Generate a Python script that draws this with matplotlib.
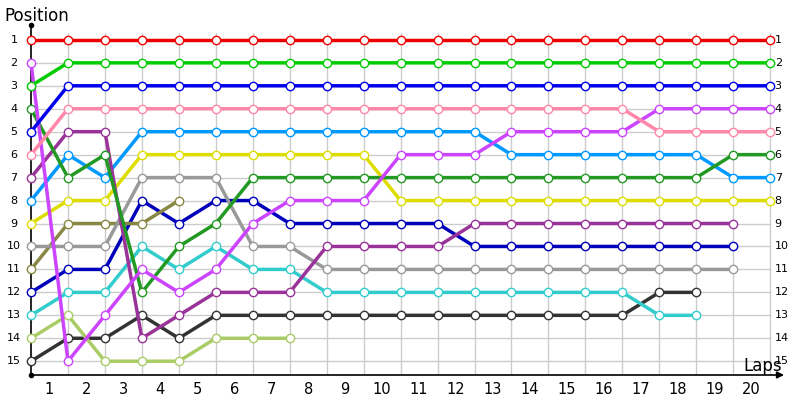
import matplotlib.pyplot as plt

laps = list(range(0, 21))
N = None

# position of each driver after each lap (lap 0 = grid)
red = [1] * 21
green = [3] + [2] * 20
blue = [5] + [3] * 20
pink = [6] + [4] * 16 + [5] * 4
violet = [2, 15, 13, 11, 12, 11, 9, 8, 8, 8, 6, 6, 6, 5, 5, 5, 5, 4, 4, 4, 4]
dark_green = [4, 7, 6, 12, 10, 9, 7, 7, 7, 7, 7, 7, 7, 7, 7, 7, 7, 7, 7, 6, 6]
purple = [7, 5, 5, 14, 13, 12, 12, 12, 10, 10, 10, 10, 9, 9, 9, 9, 9, 9, 9, 9, N]
light_blue = [8, 6, 7, 5, 5, 5, 5, 5, 5, 5, 5, 5, 5, 6, 6, 6, 6, 6, 6, 7, 7]
yellow = [9, 8, 8, 6, 6, 6, 6, 6, 6, 6, 8, 8, 8, 8, 8, 8, 8, 8, 8, 8, 8]
grey = [10, 10, 10, 7, 7, 7, 10, 10, 11, 11, 11, 11, 11, 11, 11, 11, 11, 11, 11, 11, N]
olive = [11, 9, 9, 9, 8] + [N] * 16
dark_blue = [12, 11, 11, 8, 9, 8, 8, 9, 9, 9, 9, 9, 10, 10, 10, 10, 10, 10, 10, 10, N]
teal = [13, 12, 12, 10, 11, 10, 11, 11, 12, 12, 12, 12, 12, 12, 12, 12, 12, 13, 13, N, N]
light_green = [14, 13, 15, 15, 15, 14, 14, 14] + [N] * 13
black = [15, 14, 14, 13, 14, 13, 13, 13, 13, 13, 13, 13, 13, 13, 13, 13, 13, 12, 12, N, N]

drivers = [
    (black, '#333333'), (light_green, '#aacc66'), (teal, '#33cccc'),
    (dark_blue, '#0000bb'), (olive, '#888844'), (grey, '#999999'),
    (yellow, '#dddd00'), (light_blue, '#0099ff'), (purple, '#993399'),
    (dark_green, '#229922'), (violet, '#cc44ff'), (pink, '#ff88aa'),
    (blue, '#0000ee'), (green, '#00cc00'), (red, '#ee0000'),
]

positions = list(range(1, 16))
lap_labels = [str(i) for i in range(1, 21)]

fig = plt.figure(figsize=(8, 4), dpi=100)
ax = fig.add_axes([31 / 800, 25 / 400, (785 - 31) / 800, (375 - 33) / 400])
ax.set_xlim(0, 20.4)
ax.set_ylim(15.6, 0.7)
ax.axis('off')

# grid
for p in positions:
    ax.plot([0, 20], [p, p], color='#cccccc', lw=1, zorder=1)
for l in laps[1:]:
    ax.plot([l, l], [0.7, 15.6], color='#cccccc', lw=1, zorder=1)

for pos, col in drivers:
    xs = [l for l, p in zip(laps, pos) if p is not None]
    ys = [p for p in pos if p is not None]
    ax.plot(xs, ys, color=col, lw=2.5, marker='o', ms=6, mfc='white',
            mec=col, mew=1, zorder=3, clip_on=False)

# axes lines
ax.annotate('', xy=(20.45, 15.6), xytext=(0, 15.6),
            arrowprops=dict(arrowstyle='-|>', color='black', lw=1.2,
                            mutation_scale=10), annotation_clip=False)
ax.plot([0, 0], [15.6, 0.35], color='black', lw=1.2, clip_on=False, zorder=2)
ax.plot([0], [0.35], 'ko', ms=3, clip_on=False)
ax.plot([0], [15.6], 'ko', ms=3, clip_on=False)

for p in positions:
    ax.text(-0.46, p, str(p), ha='center', va='center', fontsize=8, clip_on=False)
    ax.text(20.12, p, str(p), ha='left', va='center', fontsize=8, clip_on=False)
for i, lab in enumerate(lap_labels):
    ax.text(i + 0.5, 16.25, lab, ha='center', va='center', fontsize=10.5, clip_on=False)

fig.text(4 / 800, 1 - 16 / 400, 'Position', ha='left', va='center', fontsize=12)
fig.text(743 / 800, 1 - 366 / 400, 'Laps', ha='left', va='center', fontsize=12)

fig.savefig('out.png', dpi=100, facecolor='white')
